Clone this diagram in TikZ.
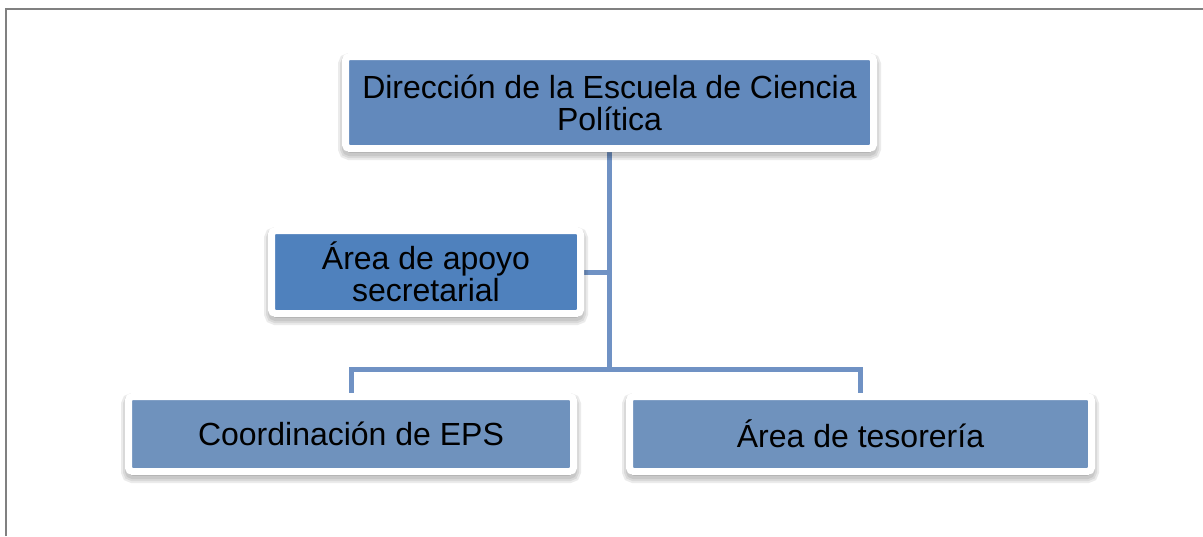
\documentclass[tikz,border=0pt]{standalone}
\usepackage{fontspec}
\setmainfont{Liberation Sans}
\usetikzlibrary{backgrounds}
\definecolor{topblue}{RGB}{98,137,188}
\definecolor{secblue}{RGB}{79,129,189}
\definecolor{botblue}{RGB}{111,146,189}
\definecolor{linkblue}{RGB}{112,146,196}
\definecolor{framegray}{RGB}{128,128,128}
\tikzset{
  softshadow/.style={preaction={draw=black, fill=black, line width=#1, opacity=0.08,
    transform canvas={yshift=-4pt}}},
  orgbox/.style={rectangle, fill=#1, draw=white, line width=7pt, rounded corners=4pt,
    align=center, inner sep=0pt, font=\fontsize{32}{32}\selectfont,
    softshadow=15pt, softshadow=11pt, softshadow=7pt},
  link/.style={draw=linkblue, line width=5pt}
}
\begin{document}
\begin{tikzpicture}[x=1pt,y=-1pt]
\useasboundingbox (0,0) rectangle (1203,536);
\draw[framegray, line width=1.5pt] (6,536) -- (6,9) -- (1203,9);
\node[orgbox=topblue, minimum width=528pt, minimum height=92pt] (dir) at (609.5,102.5)
  {Dirección de la Escuela de Ciencia\\Política};
\node[orgbox=secblue, minimum width=309pt, minimum height=83pt] (sec) at (426,272)
  {Área de apoyo\\secretarial};
\node[orgbox=botblue, minimum width=445pt, minimum height=75pt] (eps) at (351,434)
  {Coordinación de EPS};
\node[orgbox=botblue, minimum width=462pt, minimum height=75pt] (tes) at (860.5,434)
  {Área de tesorería};
\coordinate (junc) at (609,369);
\coordinate (secj) at (609,272);
\begin{scope}[on background layer]
\draw[link] (dir.south -| junc) -- (junc);
\draw[link] (sec.east) -- (secj);
\draw[link] (eps.north) |- (junc) -| (tes.north);
\end{scope}
\end{tikzpicture}
\end{document}
